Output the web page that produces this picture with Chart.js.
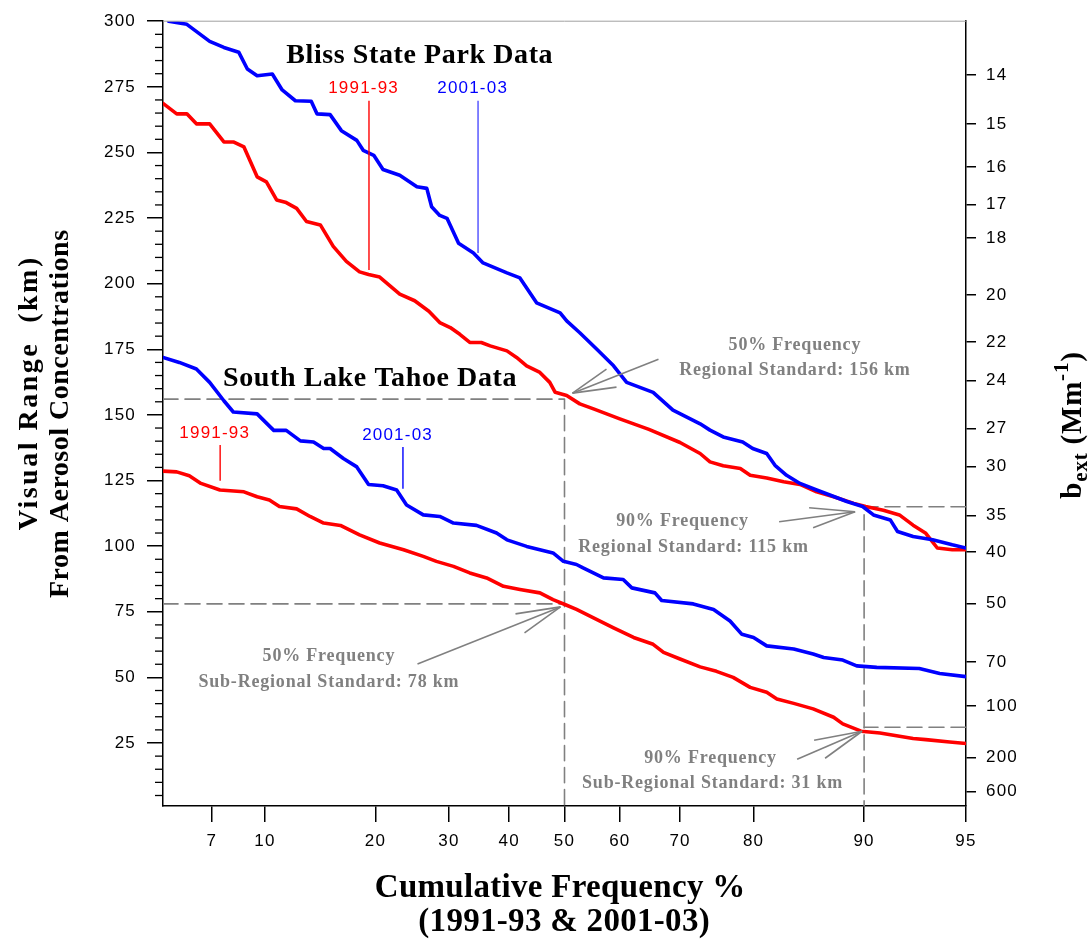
<!DOCTYPE html>
<html>
<head>
<meta charset="utf-8">
<script src="https://cdn.jsdelivr.net/npm/chart.js@4.4.1/dist/chart.umd.min.js"></script>
<style>
  html, body { margin: 0; padding: 0; background: #fff; }
  #wrap { position: relative; width: 1089px; height: 939px; }
</style>
</head>
<body>
<div id="wrap"><canvas id="chart"></canvas></div>
<script>
// Cumulative frequency (%) vs visual range (km)
const blissNewPct = [5.2, 5.9, 6.9, 7.6, 8.4, 8.9, 9.5, 10.5, 11.2, 12.2, 13.5, 14, 15.2, 16.3, 17.9, 18.6, 19.8, 20.9, 23, 25.3, 26.7, 27.4, 28.6, 29.7, 31.5, 33.9, 35.5, 39.6, 41.9, 44.9, 49.2, 50.4, 52.8, 55.9, 58.9, 61.2, 65.7, 68.9, 73, 74.4, 76.2, 78.7, 79.9, 81.5, 82.4, 83.6, 84.9, 86.4, 87.5, 88.8, 89.9, 90.6, 91.6, 92, 92.8, 93.7, 94.5, 95];
const blissNewKm = [300, 298.8, 292.3, 290, 288.2, 281.8, 279.2, 279.9, 273.8, 269.7, 269.5, 264.7, 264.4, 258.3, 254.6, 250.8, 248.9, 243.5, 241.3, 236.9, 236.3, 229.3, 226, 224.9, 215.4, 211.7, 207.9, 204.1, 202.2, 192.7, 188.9, 185.8, 181.3, 175, 168.7, 162.4, 158.6, 151.8, 146.6, 144.2, 141.6, 139.7, 137.2, 135.3, 130.8, 127, 123.9, 121.4, 119.5, 117, 115.1, 111.9, 110, 105.6, 103.7, 102.4, 100.5, 99.3];

const blissOldPct = [5, 5.5, 5.9, 6.3, 6.9, 7.6, 8.1, 8.7, 9.5, 10.1, 10.8, 11.5, 12.3, 13.1, 14.3, 15.5, 16.8, 18.2, 19.2, 20.5, 23, 25, 27, 28.6, 30.2, 31.7, 33.3, 35.2, 36.7, 39.6, 41.3, 43.1, 45.5, 47.3, 48.3, 50.4, 52.8, 55.3, 60, 65, 70, 73, 74.4, 76.2, 78.4, 79.6, 81.5, 83.3, 84.9, 86.4, 87.8, 89.3, 90.1, 91.2, 92.1, 92.8, 93.4, 93.9, 94.5, 95];
const blissOldKm = [268.7, 264.7, 264.7, 260.9, 260.9, 254, 254, 252.1, 240.7, 238.8, 231.9, 230.9, 228.7, 223.7, 222.4, 214.2, 208.5, 204.5, 203.5, 202.5, 196, 193.5, 189.5, 185.2, 183.3, 180.7, 177.6, 177.6, 176.3, 174.4, 171.9, 168.7, 166.2, 162.4, 158.6, 157.4, 154.2, 152.3, 148.5, 144.5, 139.5, 135.3, 132.1, 130.6, 129.6, 127, 126, 124.5, 123.5, 120.7, 118.8, 116.3, 115.1, 113.7, 111.9, 108, 104.9, 99.3, 98.6, 98.6];

const tahoeNewPct = [5, 5.6, 6.3, 6.9, 7.6, 8.1, 9.5, 10.6, 11.5, 12.6, 13.7, 14.6, 15.2, 16.5, 17.9, 19.2, 20.9, 22.6, 23.9, 26.2, 28.6, 30.7, 34.4, 37.8, 39.6, 43.1, 47.9, 49.8, 52.2, 53.4, 57.1, 60.6, 62.1, 66, 67.1, 72, 74.9, 77.1, 78.6, 80, 81.5, 84.3, 86.1, 87, 88.5, 89.5, 90.8, 93.1, 94, 95];
const tahoeNewKm = [171.9, 170, 167.5, 162.4, 155.4, 151.1, 150.4, 144.1, 144.1, 140.1, 139.7, 137.2, 137.2, 133.4, 130.2, 123.5, 123, 121.4, 115.7, 111.9, 111.3, 108.8, 107.9, 105, 102.4, 99.9, 97.4, 94.2, 93, 91.7, 87.9, 87.3, 84.1, 82.2, 79.3, 78, 75.9, 71.5, 66.4, 65.2, 62, 60.8, 58.9, 57.6, 56.6, 54.4, 53.8, 53.4, 51.5, 50.3];

const tahoeOldPct = [5, 5.5, 6, 6.5, 7.4, 8.7, 9.5, 10.3, 11, 12.3, 13.4, 14.6, 16.2, 18.2, 20.5, 23.5, 26.2, 28.1, 30.7, 33.3, 36.1, 39, 41.9, 45.5, 47.9, 50.4, 52.2, 55.3, 58.9, 62.4, 65.7, 67.4, 70, 73, 75.3, 77.5, 79.6, 81.5, 82.6, 84.3, 86.1, 87.8, 88.5, 89.8, 91, 92.8, 93.4, 94.4, 95];
const tahoeOldKm = [128.6, 128.3, 126.8, 123.9, 121.4, 120.7, 118.8, 117.6, 115.1, 114.2, 111.3, 108.8, 107.9, 104.3, 101.2, 98.6, 96.1, 94.2, 92.3, 89.8, 87.9, 84.7, 83.5, 82.2, 79.6, 77.5, 75.9, 72.7, 68.9, 65.2, 62.6, 59.5, 57, 54, 52.3, 50, 46.2, 44.3, 41.8, 40.1, 38, 34.8, 32.3, 29.5, 28.8, 26.7, 26.3, 25.4, 24.8];

const freqTicks = [7, 10, 20, 30, 40, 50, 60, 70, 80, 90, 95];
const kmTicks = [25, 50, 75, 100, 125, 150, 175, 200, 225, 250, 275, 300];
const bextTicks = [14, 15, 16, 17, 18, 20, 22, 24, 27, 30, 35, 40, 50, 70, 100, 200, 600];

// visibility standards: [frequency %, km]
const regional50 = [50, 156];
const regional90 = [90, 115];
const subRegional50 = [50, 78];
const subRegional90 = [90, 31];

const KOSCHMIEDER = 3912;   // VR(km) = 3912 / bext(Mm-1)
const FREQ_MIN = 5, FREQ_MAX = 95, KM_MIN = 1, KM_MAX = 300;

const RED = '#ff0000', BLUE = '#0000ff', GREY = '#808080';
const SERIF = '"Liberation Serif", "Times New Roman", serif';
const SANS = '"Liberation Sans", Arial, sans-serif';

const logit = (pct) => Math.log(pct / (100 - pct));
const toPoints = (pct, km) => pct.map((p, i) => ({ x: logit(p), y: km[i] }));

function curve(pct, km, color) {
  return { data: toPoints(pct, km), borderColor: color, borderWidth: 3.6, order: 1 };
}
function refLine(points) {
  return {
    data: points.map(([p, v]) => ({ x: logit(p), y: v })),
    borderColor: GREY, borderWidth: 1.6, borderDash: [15, 7], order: 2
  };
}

// annotation text / arrows, positioned from the data points they point at
const yearLabels = [
  { text: '1991-93', color: RED, line: RED, pct: 19.25, top: 269.7, bottom: 205.2 },
  { text: '2001-03', color: BLUE, line: '#4d4dff', pct: 34.66, top: 269.7, bottom: 211.7 },
  { text: '1991-93', color: RED, line: RED, pct: 7.41, top: 138.5, bottom: 124.9 },
  { text: '2001-03', color: BLUE, line: BLUE, pct: 23.42, top: 137.8, bottom: 121.9 }
];
const siteTitles = [
  { text: 'Bliss State Park Data', pct: 11.5, km: 286.7 },
  { text: 'South Lake Tahoe Data', pct: 7.56, km: 163.9 }
];
const callouts = [
  { at: regional50, lines: ['50% Frequency', 'Regional Standard: 156 km'],
    tip: [8, -6], tail: [94, -40], barbs: [[42, -30], [52, -12]], text: [[230, -54], [230, -29]] },
  { at: regional90, lines: ['90% Frequency', 'Regional Standard: 115 km'],
    tip: [-9, 5], tail: [-85, 15], barbs: [[-55, 1], [-51, 21]], text: [[-182, 15], [-171, 41]] },
  { at: subRegional50, lines: ['50% Frequency', 'Sub-Regional Standard: 78 km'],
    tip: [-4, 3], tail: [-147, 60], barbs: [[-49, 10], [-40, 29]], text: [[-236, 52], [-236, 78]] },
  { at: subRegional90, lines: ['90% Frequency', 'Sub-Regional Standard: 31 km'],
    tip: [-2, 4], tail: [-67, 32], barbs: [[-50, 13], [-39, 31]], text: [[-154, 31], [-152, 56]] }
];

function drawText(ctx, str, x, y, font, color, spacing, align) {
  ctx.save();
  ctx.font = font;
  ctx.fillStyle = color;
  ctx.letterSpacing = spacing + 'px';
  ctx.textBaseline = 'middle';
  ctx.textAlign = 'left';
  const w = ctx.measureText(str).width - spacing;
  const x0 = align === 'left' ? x : align === 'right' ? x - w : x - w / 2;
  ctx.fillText(str, x0, y);
  ctx.restore();
}

function line(ctx, x1, y1, x2, y2, color, width) {
  ctx.save();
  ctx.strokeStyle = color;
  ctx.lineWidth = width;
  ctx.beginPath();
  ctx.moveTo(x1, y1);
  ctx.lineTo(x2, y2);
  ctx.stroke();
  ctx.restore();
}

const tickSpacing = {
  id: 'tickSpacing',
  beforeDraw(chart) { chart.ctx.letterSpacing = '1.2px'; }
};

const decorations = {
  id: 'decorations',
  afterDraw(chart) {
    const { ctx, chartArea: area, scales } = chart;
    const px = (pct) => scales.x.getPixelForValue(logit(pct));
    const py = (km) => scales.y.getPixelForValue(km);

    // top frame line
    line(ctx, area.left, area.top, area.right, area.top, '#a0a0a0', 1);

    // minor ticks on the left axis every 5 km
    for (let v = 5; v < KM_MAX; v += 5) {
      if (v % 25 === 0) continue;
      line(ctx, area.left - 8, py(v), area.left, py(v), '#000', 1.3);
    }

    siteTitles.forEach((t) => {
      drawText(ctx, t.text, px(t.pct), py(t.km), `bold 28px ${SERIF}`, '#000', 0.6, 'left');
    });

    yearLabels.forEach((l) => {
      const x = px(l.pct);
      line(ctx, x, py(l.top), x, py(l.bottom), l.line, 1.4);
      drawText(ctx, l.text, x - 6, py(l.top) - 12, `17px ${SANS}`, l.color, 1.2, 'center');
    });

    callouts.forEach((c) => {
      const ax = px(c.at[0]);
      const ay = py(c.at[1]);
      const tx = ax + c.tip[0];
      const ty = ay + c.tip[1];
      line(ctx, tx, ty, ax + c.tail[0], ay + c.tail[1], GREY, 1.6);
      c.barbs.forEach(([bx, by]) => line(ctx, tx, ty, ax + bx, ay + by, GREY, 1.6));
      c.lines.forEach((s, i) => {
        drawText(ctx, s, ax + c.text[i][0], ay + c.text[i][1], `bold 18px ${SERIF}`, GREY, 0.8, 'center');
      });
    });

    // left axis title
    ctx.save();
    ctx.translate(30, 394);
    ctx.rotate(-Math.PI / 2);
    drawText(ctx, 'Visual Range  (km)', 0, 0, `bold 28px ${SERIF}`, '#000', 2.5, 'center');
    ctx.restore();
    ctx.save();
    ctx.translate(61, 414);
    ctx.rotate(-Math.PI / 2);
    drawText(ctx, 'From Aerosol Concentrations', 0, 0, `bold 28px ${SERIF}`, '#000', 0.5, 'center');
    ctx.restore();

    // bottom axis title
    drawText(ctx, 'Cumulative Frequency %', 560, 888, `bold 33px ${SERIF}`, '#000', 0.3, 'center');
    drawText(ctx, '(1991-93 & 2001-03)', 564, 922, `bold 33px ${SERIF}`, '#000', 0.3, 'center');

    // right axis title: b_ext (Mm^-1)
    const parts = [
      { s: 'b', size: 29, dy: 0 },
      { s: 'ext', size: 21, dy: 8 },
      { s: ' (Mm', size: 29, dy: 0 },
      { s: '-1', size: 21, dy: -11 },
      { s: ')', size: 29, dy: 0 }
    ];
    ctx.save();
    ctx.translate(1074, 425);
    ctx.rotate(-Math.PI / 2);
    let total = 0;
    parts.forEach((p) => {
      ctx.font = `bold ${p.size}px ${SERIF}`;
      ctx.letterSpacing = '0.8px';
      p.w = ctx.measureText(p.s).width;
      total += p.w;
    });
    let cx = -total / 2;
    parts.forEach((p) => {
      drawText(ctx, p.s, cx, p.dy, `bold ${p.size}px ${SERIF}`, '#000', 0.8, 'left');
      cx += p.w;
    });
    ctx.restore();
  }
};

const tickFont = { family: SANS, size: 17 };

new Chart(document.getElementById('chart'), {
  type: 'line',
  data: {
    datasets: [
      curve(blissNewPct, blissNewKm, BLUE),
      curve(blissOldPct, blissOldKm, RED),
      curve(tahoeNewPct, tahoeNewKm, BLUE),
      curve(tahoeOldPct, tahoeOldKm, RED),
      refLine([[FREQ_MIN, regional50[1]], regional50, [regional50[0], KM_MIN]]),
      refLine([[FREQ_MIN, subRegional50[1]], subRegional50]),
      refLine([[FREQ_MAX, regional90[1]], regional90, [regional90[0], KM_MIN]]),
      refLine([[FREQ_MAX, subRegional90[1]], subRegional90])
    ]
  },
  options: {
    responsive: true,
    maintainAspectRatio: false,
    animation: false,
    layout: { padding: { top: 17, left: 0, right: 0, bottom: 0 } },
    plugins: { legend: { display: false }, tooltip: { enabled: false } },
    elements: { point: { radius: 0 }, line: { tension: 0, borderCapStyle: 'round', borderJoinStyle: 'round' } },
    scales: {
      x: {
        type: 'linear',
        min: logit(FREQ_MIN),
        max: logit(FREQ_MAX),
        afterBuildTicks(scale) { scale.ticks = freqTicks.map((p) => ({ value: logit(p) })); },
        afterFit(scale) { scale.height = 133; },
        ticks: {
          autoSkip: false, maxRotation: 0, padding: 9, color: '#000', font: tickFont,
          callback: (value) => String(Math.round(100 / (1 + Math.exp(-value))))
        },
        grid: { drawOnChartArea: false, tickLength: 16, color: '#000', lineWidth: 1.5 },
        border: { color: '#000', width: 1.5 }
      },
      y: {
        type: 'linear',
        position: 'left',
        min: KM_MIN,
        max: KM_MAX,
        afterBuildTicks(scale) { scale.ticks = kmTicks.map((v) => ({ value: v })); },
        afterFit(scale) { scale.width = 163; },
        ticks: { autoSkip: false, padding: 11, color: '#000', font: tickFont },
        grid: { drawOnChartArea: false, tickLength: 16, color: '#000', lineWidth: 1.5 },
        border: { color: '#000', width: 1.5 }
      },
      bext: {
        type: 'linear',
        position: 'right',
        min: KM_MIN,
        max: KM_MAX,
        afterBuildTicks(scale) { scale.ticks = bextTicks.map((b) => ({ value: KOSCHMIEDER / b })); },
        afterFit(scale) { scale.width = 123; },
        ticks: {
          autoSkip: false, padding: 10, color: '#000', font: tickFont,
          callback: (value) => String(Math.round(KOSCHMIEDER / value))
        },
        grid: { drawOnChartArea: false, tickLength: 10, color: '#000', lineWidth: 1.5 },
        border: { color: '#000', width: 1.5 }
      }
    }
  },
  plugins: [tickSpacing, decorations]
});
</script>
</body>
</html>
